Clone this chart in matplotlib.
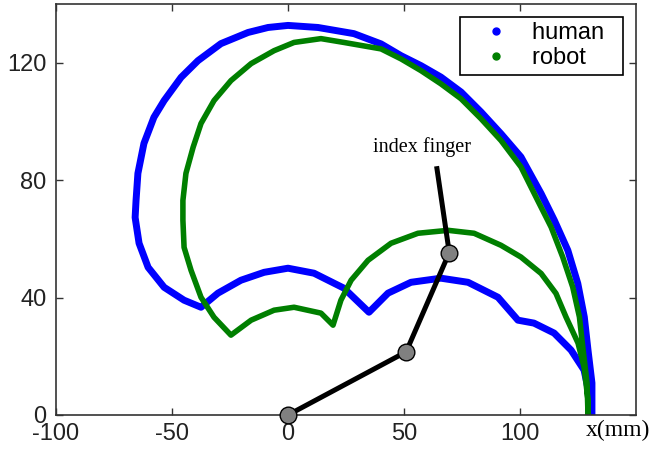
import matplotlib
matplotlib.use('Agg')
import matplotlib.pyplot as plt

plt.rcParams['axes.unicode_minus'] = False

# human fingertip workspace (mm)
human_x = [131.0, 131.0, 129.3, 127.7, 124.9, 120.6, 114.8, 109.1, 100.4, 91.8,
           83.2, 74.6, 65.9, 57.3, 48.7, 40.1, 28.4, 12.9, 0.0, -8.6,
           -17.2, -28.9, -38.8, -46.1, -53.4, -57.8, -62.1, -64.7, -65.5, -65.9,
           -64.2, -60.3, -53.4, -44.8, -37.5, -30.2, -20.3, -10.3, 0.0, 11.2,
           24.1, 34.9, 43.1, 53.0, 65.9, 77.6, 90.5, 99.1, 106.0, 114.7,
           122.0, 127.6, 129.7, 130.6]
human_y = [0.0, 10.9, 22.1, 33.4, 44.8, 56.1, 66.3, 75.4, 87.9, 95.8,
           103.2, 110.0, 115.1, 119.0, 122.4, 126.4, 129.9, 132.0, 132.7, 132.0,
           130.3, 126.5, 120.7, 115.0, 107.1, 101.4, 92.5, 82.3, 73.1, 67.3,
           58.5, 50.3, 43.5, 39.1, 36.7, 41.5, 45.9, 48.6, 50.0, 48.3,
           43.2, 35.0, 41.5, 45.2, 46.6, 45.2, 40.1, 32.3, 31.3, 27.9,
           22.1, 15.3, 7.5, 0.0]

# robot fingertip workspace (mm)
robot_x = [129.3, 128.9, 127.2, 125.6, 122.7, 118.4, 113.4, 107.6, 100.4, 91.8,
           83.2, 74.6, 65.9, 57.3, 48.7, 40.1, 24.1, 14.2, 2.6, -6.0,
           -15.9, -24.6, -31.9, -37.5, -40.9, -44.0, -45.3, -45.3, -44.8, -41.8,
           -37.5, -31.9, -24.6, -15.9, -6.0, 2.6, 14.2, 19.4, 22.8, 27.2,
           34.5, 44.4, 56.0, 69.0, 80.2, 91.8, 100.4, 109.1, 115.5, 119.8,
           125.0, 127.6, 129.3, 129.3]
robot_y = [0.0, 10.9, 22.1, 33.4, 43.6, 53.8, 64.0, 73.1, 84.5, 93.5,
           100.9, 107.7, 112.8, 117.3, 121.3, 124.7, 126.9, 128.2, 126.9, 124.1,
           119.7, 113.9, 107.1, 99.3, 91.2, 82.3, 73.1, 66.3, 57.1, 49.3,
           40.1, 33.3, 27.2, 32.3, 35.7, 36.7, 34.7, 30.6, 39.1, 45.9,
           52.7, 58.5, 61.9, 62.9, 61.9, 57.8, 53.8, 48.2, 41.4, 33.4,
           24.5, 16.3, 5.1, 0.0]

# index finger links
finger_x = [0.0, 50.9, 69.5, 64.2]
finger_y = [0.0, 21.5, 55.3, 83.9]

xticks = [-100, -50, 0, 50, 100]
yticks = [0, 40, 80, 120]

fig = plt.figure(figsize=(6.52, 4.53), dpi=100)
ax = fig.add_axes([0.0859, 0.0839, 0.8896, 0.9073])

ax.plot(human_x, human_y, '-', color='#0000ff', lw=5.0, solid_joinstyle='round')
ax.plot(robot_x, robot_y, '-', color='#007f00', lw=4.0, solid_joinstyle='round')
ax.plot([], [], '.', color='#0000ff', ms=10, label='human  ')
ax.plot([], [], '.', color='#007f00', ms=10, label='robot  ')

ax.plot(finger_x, finger_y, '-', color='black', lw=3.6, zorder=4)
ax.plot(finger_x[:3], finger_y[:3], 'o', ms=12, mfc='#808080', mec='black',
        mew=1.0, zorder=5, clip_on=False)

ax.text(57.8, 91.2, 'index finger', family='Liberation Serif', fontsize=14.5,
        ha='center', va='center')
ax.text(0.969, -0.037, 'x(mm)', transform=ax.transAxes, family='Liberation Serif',
        fontsize=17, ha='center', va='center')

ax.set_xlim(-100, 150)
ax.set_ylim(0, 140)
ax.set_xticks(xticks)
ax.set_yticks(yticks)
ax.tick_params(direction='in', top=True, right=True, length=5, width=1,
               labelsize=17, labelcolor='#222222', color='#333333')
ax.tick_params(axis='x', pad=6)
ax.tick_params(axis='y', pad=7)
for lab in ax.get_xticklabels() + ax.get_yticklabels():
    lab.set_family('Liberation Sans')
for sp in ax.spines.values():
    sp.set_color('#333333')
    sp.set_linewidth(1.2)

leg = ax.legend(loc='upper right', bbox_to_anchor=(0.9776, 0.9684), borderaxespad=0,
                fancybox=False, edgecolor='black', framealpha=1,
                prop={'family': 'Liberation Sans', 'size': 17},
                handlelength=2.6, handletextpad=0.25, borderpad=0.23, labelspacing=0.13)
leg.get_frame().set_linewidth(1.2)

fig.savefig('out.png', dpi=100)
